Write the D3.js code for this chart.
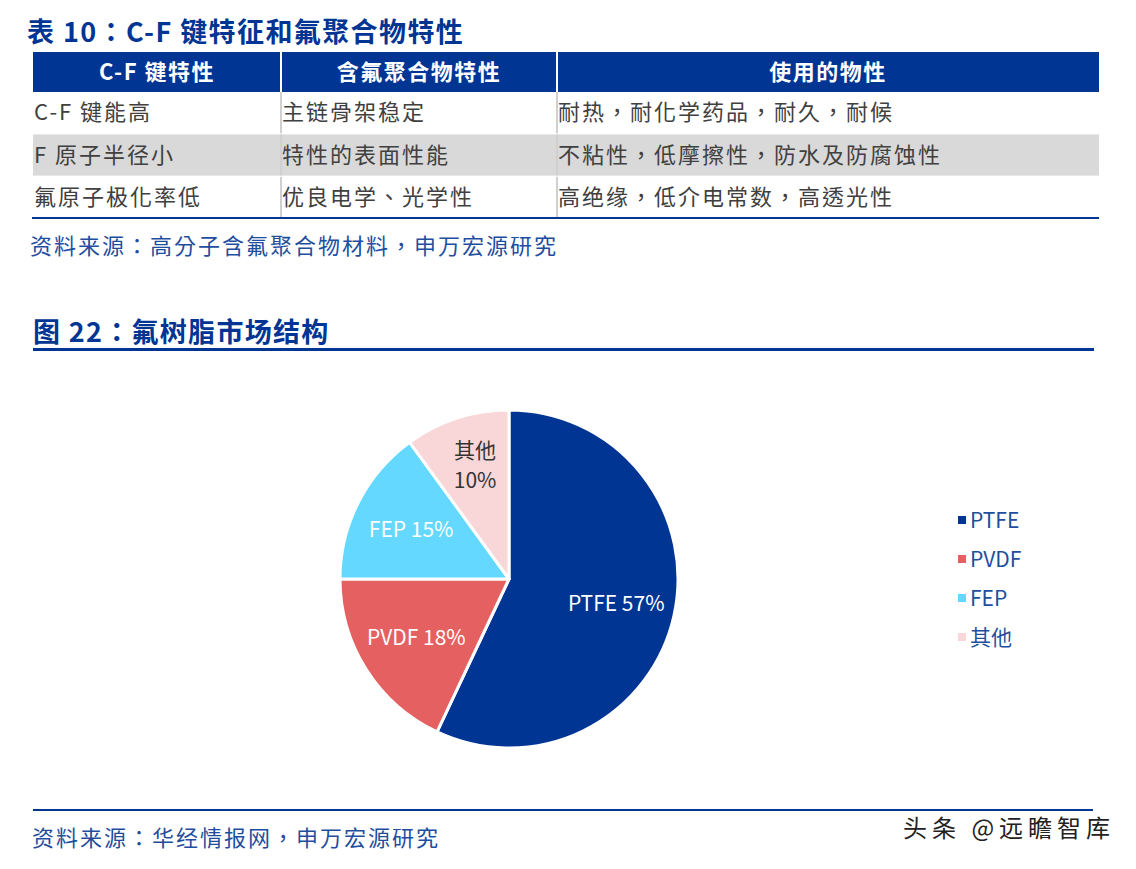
<!DOCTYPE html>
<html>
<head>
<meta charset="utf-8">
<script src="https://cdn.jsdelivr.net/npm/d3@7"></script>
<style>
  html, body { margin: 0; padding: 0; background: #fff; }
  svg { display: block; }
  text { font-family: "Noto Sans CJK TC", "Noto Sans CJK SC", "Noto Sans", sans-serif; }
</style>
</head>
<body>
<svg id="chart" width="1136" height="869"></svg>
<script>
// ---------- data ----------
const tableTitle = "表 10：C-F 键特征和氟聚合物特性";
const tableHeaders = ["C-F 键特性", "含氟聚合物特性", "使用的物性"];
const colBond = ["C-F 键能高", "F 原子半径小", "氟原子极化率低"];
const colPolymer = ["主链骨架稳定", "特性的表面性能", "优良电学、光学性"];
const colUse = ["耐热，耐化学药品，耐久，耐候", "不粘性，低摩擦性，防水及防腐蚀性", "高绝缘，低介电常数，高透光性"];
const tableSource = "资料来源：高分子含氟聚合物材料，申万宏源研究";

const chartTitle = "图 22：氟树脂市场结构";
const categories = ["PTFE", "PVDF", "FEP", "其他"];
const shares = [57, 18, 15, 10];
const chartSource = "资料来源：华经情报网，申万宏源研究";
const watermark = "头条 @远瞻智库";

// ---------- styles ----------
const blue = "#003594";
const textBlue = "#1f4e9e";
const sliceColors = ["#003594", "#e56060", "#64d8ff", "#f9d6d8"];
const labelColors = ["#ffffff", "#ffffff", "#ffffff", "#333333"];
const latin = "'Liberation Sans', Arial, 'Noto Sans CJK SC', sans-serif";

const svg = d3.select("#chart");

// ---------- table ----------
svg.append("text").attr("x", 27).attr("y", 42)
  .attr("font-size", 27).attr("font-weight", 700).attr("fill", blue)
  .attr("letter-spacing", 1.4)
  .text(tableTitle);

const colX = d3.scaleOrdinal().domain([0, 1, 2]).range([33, 281, 557]);
const colEnd = 1099;
const colW = i => (i < 2 ? colX(i + 1) : colEnd) - colX(i);

const rows = colBond.map((d, i) => [d, colPolymer[i], colUse[i]]);
const rowY = d3.scaleBand().domain(d3.range(rows.length)).range([92, 218]).paddingInner(0.03);

// header
const hdr = svg.append("g");
hdr.append("rect").attr("x", 33).attr("y", 52).attr("width", colEnd - 33).attr("height", 40).attr("fill", blue);
tableHeaders.forEach((h, i) => {
  hdr.append("text").attr("x", colX(i) + colW(i) / 2).attr("y", 72)
    .attr("dy", "0.36em").attr("text-anchor", "middle")
    .attr("font-size", 22).attr("font-weight", 700).attr("fill", "#fff")
    .attr("letter-spacing", 1.5).text(h);
  if (i > 0) hdr.append("rect").attr("x", colX(i) - 1).attr("y", 52).attr("width", 2).attr("height", 40).attr("fill", "#fff");
});

// body rows
const body = svg.append("g");
rows.forEach((r, ri) => {
  const y = rowY(ri), h = rowY.bandwidth();
  body.append("rect").attr("x", 33).attr("y", y).attr("width", colEnd - 33).attr("height", h)
    .attr("fill", ri === 1 ? "#d9d9d9" : "#ffffff");
  r.forEach((c, ci) => {
    body.append("text").attr("x", colX(ci) + 1).attr("y", y + h / 2)
      .attr("dy", "0.36em").attr("font-size", 22).attr("fill", "#404040")
      .attr("letter-spacing", 2).text(c);
    if (ci > 0) body.append("rect").attr("x", colX(ci) - 1).attr("y", y).attr("width", 2).attr("height", h)
      .attr("fill", "#d0d0d0");
  });
});
svg.append("rect").attr("x", 32).attr("y", 217).attr("width", colEnd - 32).attr("height", 2).attr("fill", blue);

svg.append("text").attr("x", 30).attr("y", 254)
  .attr("font-size", 22).attr("fill", textBlue).attr("letter-spacing", 2).text(tableSource);

// ---------- chart title ----------
svg.append("text").attr("x", 33).attr("y", 342)
  .attr("font-size", 27).attr("font-weight", 700).attr("fill", blue)
  .attr("letter-spacing", 1.3).text(chartTitle);
svg.append("rect").attr("x", 33).attr("y", 348).attr("width", 1061).attr("height", 3).attr("fill", blue);

// ---------- pie ----------
const cx = 509, cy = 579, R = 169;
const pieData = categories.map((c, i) => ({ name: c, value: shares[i], i }));
const pie = d3.pie().sort(null).value(d => d.value).startAngle(0).endAngle(2 * Math.PI);
const arc = d3.arc().innerRadius(0).outerRadius(R);
const labelArc = d3.arc().innerRadius(R * 0.65).outerRadius(R * 0.65);

const g = svg.append("g").attr("transform", `translate(${cx},${cy})`);
const arcs = pie(pieData);
g.selectAll("path").data(arcs).join("path")
  .attr("d", arc).attr("fill", d => sliceColors[d.data.i])
  .attr("stroke", "#fff").attr("stroke-width", 3).attr("stroke-linejoin", "round");

arcs.forEach(d => {
  const [lx, ly] = labelArc.centroid(d);
  const t = g.append("text").attr("x", lx).attr("y", ly)
    .attr("text-anchor", "middle").attr("font-size", 21)
    .attr("font-family", latin)
    .attr("fill", labelColors[d.data.i]);
  if (d.data.name === "其他") {
    t.append("tspan").attr("x", lx).attr("dy", "-0.8em").text(d.data.name);
    t.append("tspan").attr("x", lx).attr("dy", "1.43em").text(d.data.value + "%");
  } else {
    t.attr("dy", "0.36em").text(d.data.name + " " + d.data.value + "%");
  }
});

// ---------- legend ----------
const leg = svg.append("g").attr("transform", "translate(958,520)");
const legY = d3.scalePoint().domain(categories).range([0, 117]);
categories.forEach((c, i) => {
  leg.append("rect").attr("x", 0).attr("y", legY(c) - 4).attr("width", 8).attr("height", 8).attr("fill", sliceColors[i]);
  leg.append("text").attr("x", 12).attr("y", legY(c)).attr("dy", "0.36em")
    .attr("font-size", 21).attr("fill", textBlue)
    .attr("font-family", latin).text(c);
});

// ---------- footer ----------
svg.append("rect").attr("x", 33).attr("y", 809).attr("width", 1060).attr("height", 2).attr("fill", blue);
svg.append("text").attr("x", 32).attr("y", 846)
  .attr("font-size", 22).attr("fill", textBlue).attr("letter-spacing", 2).text(chartSource);
svg.append("text").attr("x", 903).attr("y", 837)
  .attr("font-size", 24).attr("fill", "#222").attr("letter-spacing", 5).text(watermark);
</script>
</body>
</html>
